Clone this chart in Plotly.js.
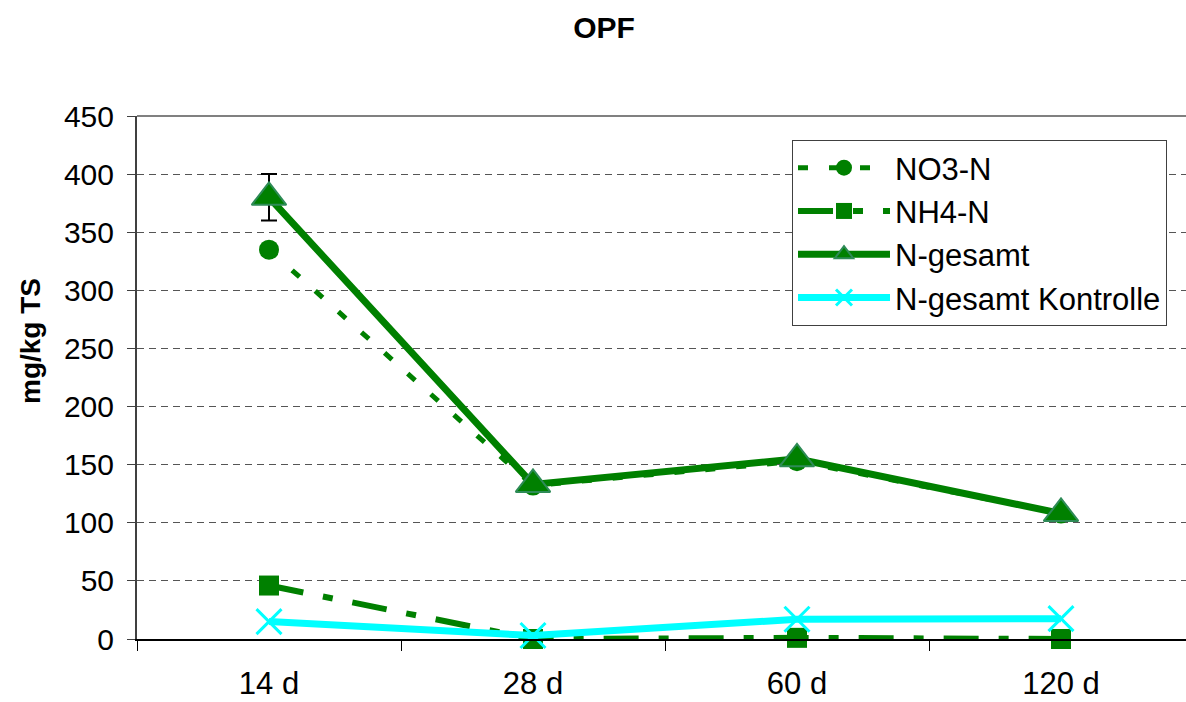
<!DOCTYPE html>
<html>
<head>
<meta charset="utf-8">
<script src="https://cdn.plot.ly/plotly-3.0.1.min.js"></script>
<style>html,body{margin:0;padding:0;background:#fff;overflow:hidden}</style>
</head>
<body>
<div id="chart" style="width:1186px;height:702px"></div>
<script>
// ---- data ----
const categories = ['14 d', '28 d', '60 d', '120 d'];
const no3 = [335, 132, 153, 108];
const nh4 = [46, 0, 1, 0];
const nTotal = [380, 133, 155, 108];
const nTotalErr = [20, 0, 0, 0];
const nControl = [15, 3, 17, 17.5];
const seriesNames = ['NO3-N', 'NH4-N', 'N-gesamt', 'N-gesamt Kontrolle'];
const yTicks = [0, 50, 100, 150, 200, 250, 300, 350, 400, 450];

const green = '#008000';
const cyan = '#00FFFF';

const traces = [
  {
    x: categories, y: no3, name: seriesNames[0], type: 'scatter', mode: 'lines+markers',
    legendgroup: 'a', cliponaxis: false,
    line: {color: green, width: 5, dash: '10px,21px'},
    marker: {symbol: 'circle', size: 20, color: green}
  },
  {
    x: categories, y: nh4, name: seriesNames[1], type: 'scatter', mode: 'lines+markers',
    legendgroup: 'b', cliponaxis: false,
    line: {color: green, width: 6, dash: '35px,20px,10px,20px'},
    marker: {symbol: 'square', size: 20, color: green}
  },
  {
    x: categories, y: nTotal, name: seriesNames[2], type: 'scatter', mode: 'lines+markers',
    legendgroup: 'c', cliponaxis: false,
    line: {color: green, width: 7},
    marker: {symbol: 'triangle-up', size: 30, color: green, line: {color: '#2E8B57', width: 2}},
    error_y: {type: 'data', array: nTotalErr, visible: true, color: '#000', thickness: 2, width: 8}
  },
  {
    x: categories, y: nControl, name: seriesNames[3], type: 'scatter', mode: 'lines+markers',
    legendgroup: 'd', cliponaxis: false,
    line: {color: cyan, width: 7},
    marker: {symbol: 'x-thin', size: 25, color: cyan, line: {color: cyan, width: 3}}
  }
];

const W = 1186, H = 702;
const L = 137, T = 116, B = 63;
const plotW = W - L;           // right edge clipped as in reference
const plotH = H - T - B;
const catSpacing = 264;        // px per category in the reference
const xMax = -0.5 + plotW / catSpacing;

const layout = {
  width: W, height: H,
  margin: {l: L, r: 0, t: T, b: B},
  paper_bgcolor: '#fff', plot_bgcolor: '#fff',
  font: {family: 'Liberation Sans, Arial, sans-serif', color: '#000', size: 30},
  title: {
    text: '<b>OPF</b>', xref: 'container', yref: 'container',
    x: 604 / W, xanchor: 'center', y: 1 - 27 / H, yanchor: 'middle',
    font: {size: 30, color: '#000'}
  },
  xaxis: {
    type: 'category', range: [-0.5, xMax],
    showline: true, linecolor: '#000', linewidth: 2,
    ticks: 'outside', tickson: 'boundaries', ticklen: 10, tickcolor: '#000', tickwidth: 1,
    ticklabelstandoff: 16,
    tickfont: {size: 31},
    showgrid: false, zeroline: false, fixedrange: true
  },
  yaxis: {
    range: [0, 450], tickvals: yTicks, ticktext: yTicks.map(String),
    showline: true, linecolor: '#404040', linewidth: 2,
    ticks: 'outside', ticklen: 8, tickcolor: '#404040', tickwidth: 1,
    ticklabelstandoff: 7,
    tickfont: {size: 30},
    showgrid: true, gridcolor: '#555', gridwidth: 1, griddash: '7px,5px',
    zeroline: false, fixedrange: true
  },
  showlegend: true,
  legend: {
    x: (792 - L) / plotW, xanchor: 'left',
    y: (H - B - 140) / plotH, yanchor: 'top',
    bgcolor: '#fff', bordercolor: '#404040', borderwidth: 1,
    font: {size: 31, color: '#000'},
    itemwidth: 92, tracegroupgap: 8, traceorder: 'normal'
  },
  annotations: [{
    text: '<b>mg/kg TS</b>', textangle: -90,
    xref: 'paper', yref: 'paper',
    x: (30 - L) / plotW, y: (H - B - 341) / plotH,
    xanchor: 'center', yanchor: 'middle', showarrow: false,
    font: {size: 28, color: '#000'}
  }],
  shapes: [{
    type: 'line', xref: 'paper', yref: 'paper', x0: 0, x1: 1, y0: 1, y1: 1,
    line: {color: '#808080', width: 2}
  }]
};

Plotly.newPlot('chart', traces, layout, {displayModeBar: false, staticPlot: true});
</script>
</body>
</html>
